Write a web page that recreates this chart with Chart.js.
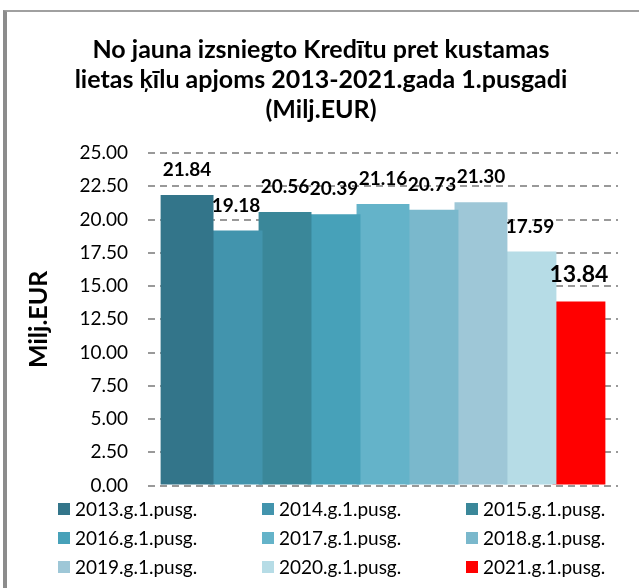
<!DOCTYPE html>
<html>
<head>
<meta charset="utf-8">
<script src="https://cdn.jsdelivr.net/npm/chart.js@4.4.1/dist/chart.umd.min.js"></script>
<style>
  body { margin: 0; background: #fff; font-family: Lato, sans-serif; }
  #frame {
    position: absolute; left: 3px; top: 10px; width: 700px; height: 600px;
    border-left: 4px solid #8c8c8c; border-top: 2px solid #a0a0a0;
  }
  #wrap { position: absolute; left: 0; top: 0; width: 639px; height: 517px; }
  #legend {
    position: absolute; left: 58px; top: 494px;
    display: grid; grid-template-columns: 204px 204px 204px;
  }
  .item { display: flex; align-items: center; height: 29px; font-size: 19px; color: #000; }
  .box { width: 12px; height: 12px; margin-right: 5px; }
</style>
</head>
<body>
<div id="frame"></div>
<div id="wrap"><canvas id="chart" width="639" height="517"></canvas></div>
<div id="legend"></div>
<script>
// ── data ────────────────────────────────────────────────
const seriesLabels = [
  "2013.g.1.pusg.", "2014.g.1.pusg.", "2015.g.1.pusg.",
  "2016.g.1.pusg.", "2017.g.1.pusg.", "2018.g.1.pusg.",
  "2019.g.1.pusg.", "2020.g.1.pusg.", "2021.g.1.pusg."
];
const values = [21.84, 19.18, 20.56, 20.39, 21.16, 20.73, 21.30, 17.59, 13.84];
const colors = [
  "#33758a", "#4294ad", "#3a8799", "#47a1b9", "#64b3c9",
  "#7ab8cc", "#9ec7d7", "#b6dce6", "#ff0000"
];
const yMin = 0;
const yMax = 25;
const yStep = 2.5;

const titleLines = [
  "No jauna izsniegto Kredītu pret kustamas",
  "lietas ķīlu apjoms 2013-2021.gada 1.pusgadi",
  "(Milj.EUR)"
];

// ── value labels above each bar ─────────────────────────
const barLabels = {
  id: "barLabels",
  afterDatasetsDraw(chart) {
    const ctx = chart.ctx;
    ctx.save();
    ctx.fillStyle = "#000";
    ctx.textAlign = "center";
    ctx.textBaseline = "middle";
    chart.data.datasets.forEach((ds, i) => {
      const el = chart.getDatasetMeta(i).data[0];
      if (!el) return;
      const last = i === chart.data.datasets.length - 1;
      ctx.font = `bold ${last ? 23 : 19}px Lato`;
      ctx.fillText(ds.data[0].toFixed(2), el.x, el.y - (last ? 27 : 25));
    });
    ctx.restore();
  }
};

new Chart(document.getElementById("chart"), {
  type: "bar",
  data: {
    labels: [""],
    datasets: seriesLabels.map((label, i) => ({
      label,
      data: [values[i]],
      backgroundColor: colors[i],
      borderWidth: 0,
      categoryPercentage: 0.938,
      barPercentage: 1.08,
    })),
  },
  options: {
    responsive: false,
    devicePixelRatio: 1,
    animation: false,
    layout: { padding: { left: 24, right: 21, top: 0, bottom: 15 } },
    plugins: {
      legend: { display: false },
      tooltip: { enabled: false },
      title: {
        display: true,
        text: titleLines,
        color: "#000",
        font: { family: "Lato", size: 25, weight: "bold", lineHeight: 1.2 },
        padding: { top: 35, bottom: 28 },
      },
    },
    scales: {
      x: { display: false },
      y: {
        min: yMin,
        max: yMax,
        afterFit: (scale) => { scale.width = 124; },
        ticks: {
          stepSize: yStep,
          color: "#000",
          font: { family: "Lato", size: 19 },
          padding: 20,
          callback: (v) => v.toFixed(2),
        },
        grid: { color: "#999", lineWidth: 2, drawTicks: false },
        border: { display: false, dash: [7, 5] },
        title: {
          display: true,
          text: "Milj.EUR",
          color: "#000",
          font: { family: "Lato", size: 25, weight: "bold", lineHeight: 1.2 },
          padding: 0,
        },
      },
    },
  },
  plugins: [barLabels],
});

// ── legend (3 columns) ──────────────────────────────────
const legend = document.getElementById("legend");
seriesLabels.forEach((label, i) => {
  const item = document.createElement("div");
  item.className = "item";
  item.innerHTML = `<span class="box" style="background:${colors[i]}"></span><span>${label}</span>`;
  legend.appendChild(item);
});
</script>
</body>
</html>
